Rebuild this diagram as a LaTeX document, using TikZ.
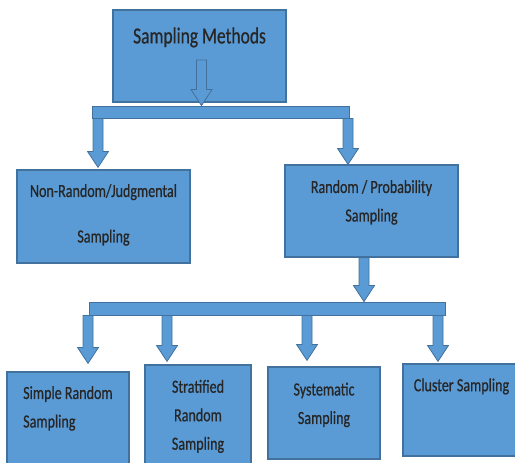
\documentclass[tikz,border=0pt]{standalone}
\usepackage{fontspec}
\setmainfont[FakeStretch=0.76,FakeBold=0.6]{Carlito}
\usetikzlibrary{calc}
\definecolor{boxblue}{HTML}{5B9BD5}
\definecolor{edgeblue}{HTML}{41719C}
\tikzset{
  box/.style={draw=edgeblue, line width=1.2pt, fill=boxblue, inner sep=0pt},
  bar/.style={draw=edgeblue, line width=0.9pt, fill=boxblue, inner sep=0pt},
  blockarr/.style={draw=edgeblue, line width=0.8pt, fill=boxblue, line join=miter},
  txt/.style={font=\fontsize{18.5}{28.5}\selectfont, text=black!85, inner sep=0pt}
}
% block arrow: shaft starts at the height of #2, tip at the (shifted) target #3
\newcommand{\blockarrow}[3][]{%
  \draw[blockarr] let \p1=(#2), \p2=([#1]#3) in
    (\x2-5pt,\y1) -- (\x2-5pt,\y2+16pt) -- (\x2-10.5pt,\y2+16pt) -- (\x2,\y2)
    -- (\x2+10.5pt,\y2+16pt) -- (\x2+5pt,\y2+16pt) -- (\x2+5pt,\y1) -- cycle;}
\begin{document}
\begin{tikzpicture}[x=1pt,y=-1pt]
  \clip (0,0) rectangle (515,463);
  % boxes
  \node[box, minimum width=173pt, minimum height=92pt] (top) at (199.5,56) {};
  \node[box, minimum width=173pt, minimum height=93pt] (nonrand) at (103.5,216.5) {};
  \node[box, minimum width=173pt, minimum height=92pt] (rand) at (371.5,211) {};
  \node[box, minimum width=122pt, minimum height=110pt] (simple) at (68,427) {};
  \node[box, minimum width=106pt, minimum height=110pt] (strat) at (198,420) {};
  \node[box, minimum width=112pt, minimum height=92pt] (syst) at (324,413) {};
  \node[box, minimum width=115pt, minimum height=92pt] (cluster) at (460.5,410) {};
  % bars
  \node[bar, minimum width=257pt, minimum height=12pt] (bar1) at (220.5,112) {};
  \node[bar, minimum width=356pt, minimum height=13pt] (bar2) at (267,308.5) {};
  % arrows
  \blockarrow[xshift=-19pt]{[yshift=-4pt]top.center}{bar1.north}
  \blockarrow[xshift=-5.5pt,yshift=2pt]{bar1.south}{nonrand.north}
  \blockarrow[xshift=-23.5pt]{bar1.south}{rand.north}
  \blockarrow[xshift=97pt]{rand.south}{bar2.north}
  \blockarrow[xshift=20pt,yshift=8pt]{bar2.south}{simple.north}
  \blockarrow[xshift=-31pt,yshift=3pt]{bar2.south}{strat.north}
  \blockarrow[xshift=-17pt,yshift=6pt]{bar2.south}{syst.north}
  \blockarrow[xshift=-22.5pt,yshift=2pt]{bar2.south}{cluster.north}
  % labels
  \node[txt, font=\fontsize{23}{28}\selectfont] (ttop) at ([yshift=-28pt]top.north) {Sampling Methods};
  \node[txt, align=center] (tnonrand) at ([yshift=-45.5pt]nonrand.north) {Non-Random/Judgmental\\[17pt]Sampling};
  \node[txt, align=center] (trand) at ([yshift=-38pt]rand.north) {Random / Probability\\Sampling};
  \node[txt, align=left, anchor=west] (tsimple) at ([xshift=-45pt,yshift=-37pt]simple.north) {Simple Random\\Sampling};
  \node[txt, align=center] (tstrat) at ([yshift=-52pt]strat.north) {Stratified\\Random\\Sampling};
  \node[txt, align=center] (tsyst) at ([yshift=-38.5pt]syst.north) {Systematic\\Sampling};
  \node[txt] (tcluster) at ([xshift=1pt,yshift=-23pt]cluster.north) {Cluster Sampling};
\end{tikzpicture}
\end{document}
